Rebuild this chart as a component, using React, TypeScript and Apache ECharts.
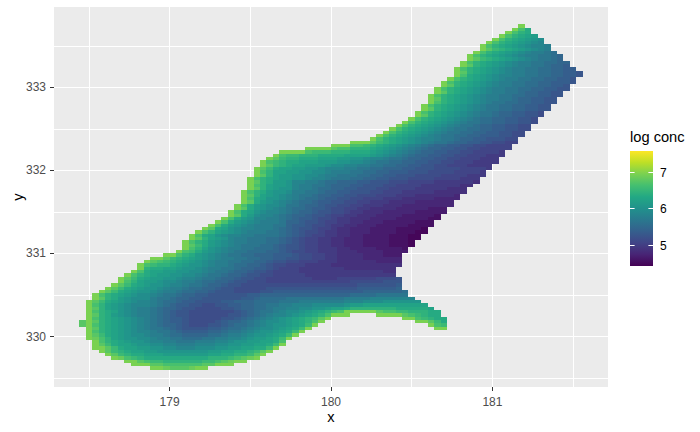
import React, { useEffect, useRef } from "react";
import * as echarts from "echarts";

// Each letter is one 0.04 x 0.04 cell, a = 4.45, b = 4.55 ... z = 6.95; "." = no cell.
const CELL = 0.04;
const X0 = 178.46;
const Y0 = 329.62;
const LETTERS = "abcdefghijklmnopqrstuvwxyz";
const rowStarts = [
  11, 8, 7, 5, 4, 3, 2, 2, 2, 1, 1, 1, 1, 0, 0, 1, 1, 1, 1, 1, 1, 2, 2, 3, 4, 5, 6, 6, 7, 8, 9, 9, 10, 11, 13, 15,
  16, 16, 16, 17, 17, 18, 19, 20, 21, 22, 23, 23, 24, 24, 25, 25, 25, 25, 26, 26, 26, 26, 27, 27, 27, 28, 28, 29,
  30, 31, 35, 39, 42, 45, 46, 47, 48, 49, 50, 51, 52, 52, 53, 53, 54, 54, 54, 55, 55, 56, 56, 57, 58, 58, 58, 59,
  59, 60, 60, 61, 62, 62, 63, 64, 65, 66, 67, 68,
];
const rowCells = [
  "zzyxxxyzz",
  "zzzxxwwwwwwxxzzz",
  "zzxwvvuuuuuuvvwxyzz",
  "zywvuttttttttttuuuvwxyz",
  "zxvuttsssrrrrrrrssttuuvxz",
  "zxvutssrrqqqqqqqqrrssttuvxz",
  "zzxvtssrrqqppooopppqqrrssttvz",
  "zxvtssrqqppoonnnoooppqqrrsstvz",
  "zwutsrqqpoonnmmmnnnoopqqrrsstw",
  "zywusrqqpponnmmlllmmnnoopqrrstvz",
  "zxvtsrqpponnmllkkkkllmnnopqqrstvz",
  "zwutsrqpoonmmlkjjjjkklmmnopqqrstvz",
  "zxutsrqponmmlkjiiiijjkllmnoppqrstvz...................zz",
  "xzwutsrqponmlkkjihhhiijkllmnopqqrstvz.................zwv",
  "xzxutsrqponmlkjjihhhhijkklmnoppqrstuwz..............zzxvt",
  "zwutsrqponmlkjjihhhhhiijklmnopqrstuvxz...........zzwvutt",
  "zxutrqponnmlkjiihhhhhhiijklmnoopqrstuwzzz....zzzzxwvutt",
  "zwutsqponnmlkjiihhhhhhhijklmmnoppqrstuvwzzzzzxwwvvuuutt",
  "zxusrqponnmlkkjiihhhhiijkkllmnnooppqqrsstuuuuuuuttttts",
  "zwusrqpooonmlkjjiihhiijjkkllmmnnooopppppqrrssssssssss",
  "zxvtsrqpoonmllkjjiiiijjkkkllllmmmnnnnnnnooopppqqqqqq",
  "zxutrqpppnmmlkkjjiiiiiijjkllllmmmmmmmmmnnnnooooooo",
  "zwutsrqpponmmlkkjjiiiiiijjkkkkkkkkkkkkkkllllmmmmm",
  "zxvtsrqqponnmllkkjiiihhhhiijjjjjjjjjjjjjjkkkkkkl",
  "zxvtsrqqponnmllkkjiihhhhhiiiiiiiiiiiiiijjjjjjk",
  "zxvtsrqqpoonmmlkkjiihhhhhhhhhhhhhhhhhhiiiiiij",
  "zwusrrqpponnmllkkjiihhhggggggggggggghhhhhiii",
  "zxvtsrrqqpoonmmlkkjiihhgggggggffffgggggghhhi",
  "zwutsrrqqpponmmlkkjiihhgggggffffffffffffff",
  "zwtssrrqqpponmmlkkjiihggggfffffffffffffee",
  "zuttssrqqponnmmlkkjjihgggfffffffeeeeeeee",
  "zwvuutsrqqponnmllkkjihhgggffffeeeeeeeeeee",
  "zxwvutsrqponnmmllkkjiihhgggfffeeeeeedddd",
  "zzxvutsrqponnmmllkkjjiihhggffeeeedddddd",
  "zzwutrqponmmllkkkjjjihhggffeeeedddccc",
  "zwvtrqponmmlllkkjihhggfffeeeddddcccc",
  "zwusqponnmmlllkjiihggfffeeddddccccb",
  "zxvtrqponmmmllkjiihggffeedddccccbbba",
  "zwutrqponnmmmllkjihggffeedddccccbbba",
  "zxusrqonnmmmllkjihggffeedddccccbbbaa",
  "zwtsqpoonnmmmmlkjihggffeeddccccbbbaa",
  "zwusrqponnnmmlkjihhgffeedddccccbbbaa",
  "zxtsqpoonnnmlkjiihggfeedddccccbbbba",
  "zwtrqponnnmmkjjihhgffeedddcccccbbbb",
  "zwtrqponnnmkkjiihggffeedddcccccbbb",
  "zwtrqoonnmlkjjihhgffeeeddddcccccbb",
  "zxtrpoonmlkkjiihggffeeeddddcccccb",
  "zwtsqpoonmlkkjiihhgffeeedddddccccc",
  "zxtrqponmllkjjihhggffeeeedddddccc",
  "zwtrqppommlkkjiihhggfffeeedddddddd",
  "zxtrqponmllkjjiihhggfffeeeedddddd",
  "zwtsqqponmllkjjiihhgggfffeeeeedddd",
  "zxusrqponmmlkkjjiihhhgggfffeeeeeed",
  "zwutrqqpnnmmlkkjjiiihhgggfffffeeeee",
  "zxusrqqonnmllkkjjiiihhggggfffffeee",
  "zwusrrqonnmmlkkkjjiiihhggggffffffee",
  "zxutrrqoonnmllkkkjjiiihhhggggffffffe",
  "zwutsrrqqpoonmmmllkkjjiiihhhhggggfff",
  "zxusrrqqpponnmmmllkkjjiiihhhhggggfff",
  "zwussrrqqpponnnmmllkkjjjiiihhhhggggf",
  "zxvtssrrqqpooonnmmllkkkjjiiihhhhggggf",
  "zxvutssrrrqppoonnmmllkkjjiihhgggffff",
  "zwvuttsssrrrqqpponmmllkkjjiihhgggffff",
  "zxvuutttsssrrqqpoonmmlkkjjiihhgggfff",
  "zwvvuuuttttssssrqponmlkkjjiihhgggfff",
  "zzzzwvvvuuutttsrqponmlkkjjiihhggggf",
  "zzzzxwwuuutsrqponmlkkjjiihhggggg",
  "zzzwwvutsrqponmlkkjjiihhgggg",
  "zzzxvutsrqponmmlkkjjiihhgg",
  "zwutsrqpoonmmlkkjjiiihh",
  "zwutsrqponmmllkkjjjiihh",
  "zwutsrqponmmllkkjjiihh",
  "zwutsrqponmmllkkjjiihh",
  "zwutsrqponmmlkkjjiihh",
  "zwutsrqponmmllkkjjiih",
  "zwutsrqponmllkkjjiih",
  "zxutsrqponmmlkkjjiih",
  "zwutsrqponmmlkkjjiih",
  "zxutsrqponmmllkkjjii",
  "zwutsrqponmmllkkjjii",
  "zwutsrqponmmllkkjjii",
  "zxutsrqponnmmlkkjjii",
  "zwutsrqponnmmllkkjjii",
  "zxutsrqponnmmlkkjjii",
  "zwutsrqponnmmllkkjjii",
  "zxutsrqponnmmllkkjji",
  "zwutsrqponnmmllkkjjji",
  "zwutsrqponnmmllkkjji",
  "zwtsrqpoonnmmllkkjji",
  "zxutsrqponnmmllkkjji",
  "zwutsrqponnmmllkkjj",
  "zxutsrqponnmmlkkj",
  "zwutsrqponnmmllkk",
  "zxvutsrqponmmlk",
  "zwutsrqponnmmlk",
  "zwutsrqponnml",
  "zxvutsrqpon",
  "zwutsrqpoon",
  "zwutsrqpo",
  "zwutsrqp",
  "zwutsr",
  "zwut",
  "zwt",
  "z",
];

const xMajor = [179, 180, 181];
const yMajor = [330, 331, 332, 333];
const xGridLines = [178.5, 179, 179.5, 180, 180.5, 181, 181.5];
const yGridLines = [329.5, 330, 330.5, 331, 331.5, 332, 332.5, 333, 333.5];
const legendTicks = [5, 6, 7];
const legendTitle = "log conc";
const viridis = ["#440154", "#482475", "#414487", "#355F8D", "#2A788E", "#21918C", "#22A884", "#44BF70", "#7AD151", "#BDDF26", "#FDE725"];
const VMIN = 4.405;
const VMAX = 7.59;

const cells: number[][] = [];
rowCells.forEach((row, r) => {
  row.split("").forEach((ch, i) => {
    if (ch === ".") return;
    cells.push([X0 + (rowStarts[r] + i) * CELL, Y0 + r * CELL, 4.45 + LETTERS.indexOf(ch) * 0.1]);
  });
});

const FONT = "Liberation Sans, Arial, sans-serif";
const BAR = { x: 630, y: 151, w: 23, h: 115 };
const legendY = (v: number) => BAR.y + BAR.h - ((v - VMIN) / (VMAX - VMIN)) * BAR.h;

export default function App() {
  const ref = useRef<HTMLDivElement>(null);
  useEffect(() => {
    document.body.style.margin = "0";
    const chart = echarts.init(ref.current!, undefined, { renderer: "svg" });
    const axisText = { color: "#4D4D4D", fontSize: 12, fontFamily: FONT };
    const nameText = { color: "#000", fontSize: 14.67, fontFamily: FONT };
    const hiddenX = { type: "value", min: 178.284, max: 181.716, position: "top", axisLine: { show: false }, axisLabel: { show: false }, axisTick: { show: false, customValues: xGridLines }, splitLine: { show: true, lineStyle: { color: "#fff", width: 1 } } };
    const hiddenY = { type: "value", min: 329.392, max: 333.968, position: "right", axisLine: { show: false }, axisLabel: { show: false }, axisTick: { show: false, customValues: yGridLines }, splitLine: { show: true, lineStyle: { color: "#fff", width: 1 } } };
    const graphics: any[] = [
      { type: "text", x: BAR.x, y: 137, style: { text: legendTitle, fill: "#000", font: `14.67px ${FONT}`, textVerticalAlign: "middle" } },
      {
        type: "rect",
        shape: { x: BAR.x, y: BAR.y, width: BAR.w, height: BAR.h },
        style: {
          fill: {
            type: "linear", x: 0, y: 1, x2: 0, y2: 0,
            colorStops: viridis.map((color, i) => ({ offset: i / (viridis.length - 1), color })),
          },
        },
      },
    ];
    legendTicks.forEach((v) => {
      const y = Math.round(legendY(v)) + 0.5;
      graphics.push(
        { type: "line", shape: { x1: BAR.x, y1: y, x2: BAR.x + 4.6, y2: y }, style: { stroke: "#fff", lineWidth: 1 } },
        { type: "line", shape: { x1: BAR.x + BAR.w - 4.6, y1: y, x2: BAR.x + BAR.w, y2: y }, style: { stroke: "#fff", lineWidth: 1 } },
        { type: "text", x: 660, y, style: { text: String(v), fill: "#000", font: `12px ${FONT}`, textVerticalAlign: "middle" } },
      );
    });
    chart.setOption({
      animation: false,
      grid: { left: 54, top: 7, width: 554, height: 380, show: true, backgroundColor: "#EBEBEB", borderWidth: 0, outerBoundsMode: "none" },
      xAxis: [
        {
          type: "value", min: 178.284, max: 181.716, position: "bottom",
          name: "x", nameLocation: "middle", nameGap: 22, nameMoveOverlap: false, nameTextStyle: nameText,
          axisLine: { show: false }, splitLine: { show: false },
          axisTick: { length: 4, lineStyle: { color: "#333333" }, customValues: xMajor },
          axisLabel: { ...axisText, margin: 9, customValues: xMajor },
        },
        hiddenX,
      ],
      yAxis: [
        {
          type: "value", min: 329.392, max: 333.968, position: "left",
          name: "y", nameLocation: "middle", nameGap: 29, nameRotate: 90, nameMoveOverlap: false, nameTextStyle: nameText,
          axisLine: { show: false }, splitLine: { show: false },
          axisTick: { length: 4, lineStyle: { color: "#333333" }, customValues: yMajor },
          axisLabel: { ...axisText, margin: 8, customValues: yMajor },
        },
        hiddenY,
      ],
      visualMap: { show: false, type: "continuous", min: VMIN, max: VMAX, dimension: 2, seriesIndex: 0, inRange: { color: viridis } },
      series: [
        {
          type: "custom",
          coordinateSystem: "cartesian2d",
          silent: true,
          encode: { x: 0, y: 1 },
          data: cells,
          renderItem: (_: any, api: any) => {
            const a = api.coord([api.value(0) - CELL / 2, api.value(1) + CELL / 2]);
            const b = api.coord([api.value(0) + CELL / 2, api.value(1) - CELL / 2]);
            const x0 = Math.round(a[0]), y0 = Math.round(a[1]);
            return {
              type: "rect",
              shape: { x: x0, y: y0, width: Math.round(b[0]) - x0, height: Math.round(b[1]) - y0 },
              style: { fill: api.visual("color") },
            };
          },
        },
      ],
      graphic: graphics,
    });
    return () => chart.dispose();
  }, []);
  return <div ref={ref} style={{ position: "absolute", left: 0, top: 0, width: 700, height: 432 }} />;
}
